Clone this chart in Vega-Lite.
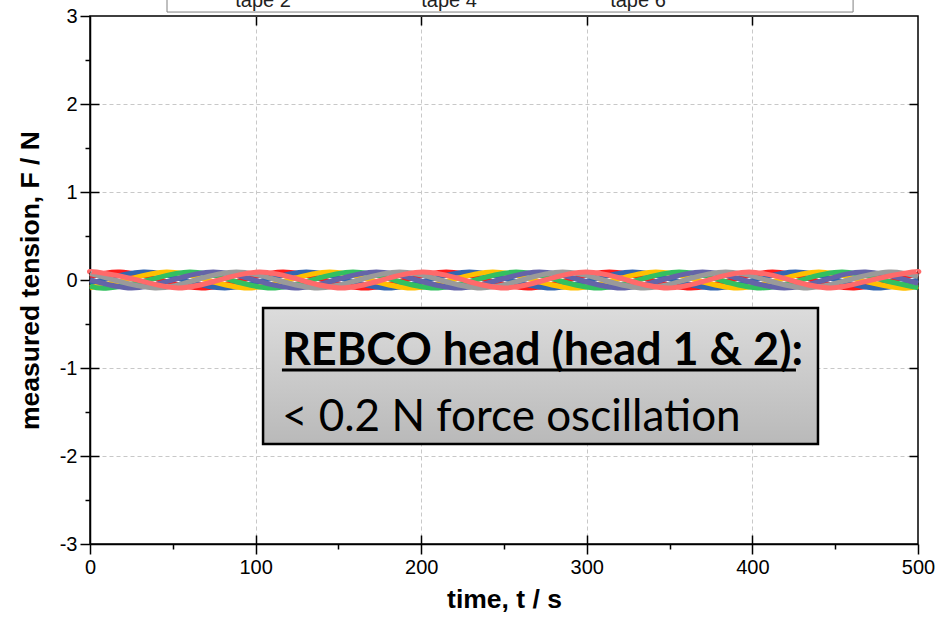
{
  "$schema": "https://vega.github.io/schema/vega-lite/v6.json",
  "width": 828,
  "height": 528,
  "autosize": {"type": "none"},
  "padding": {"left": 90, "top": 16, "right": 27, "bottom": 79},
  "background": "white",
  "config": {"view": {"stroke": "black", "strokeWidth": 1.5}, "font": "Liberation Sans"},
  "datasets": {
    "lines": [
      {"s":"tape 1","t":0,"F":0.036},{"s":"tape 1","t":18.1,"F":0.09},{"s":"tape 1","t":42.7,"F":0},{"s":"tape 1","t":67.4,"F":-0.09},{"s":"tape 1","t":92.0,"F":0},{"s":"tape 1","t":116.6,"F":0.09},{"s":"tape 1","t":141.2,"F":0},{"s":"tape 1","t":165.9,"F":-0.09},{"s":"tape 1","t":190.5,"F":0},{"s":"tape 1","t":215.1,"F":0.09},{"s":"tape 1","t":239.7,"F":0},{"s":"tape 1","t":264.4,"F":-0.09},{"s":"tape 1","t":289.0,"F":0},{"s":"tape 1","t":313.6,"F":0.09},{"s":"tape 1","t":338.2,"F":0},{"s":"tape 1","t":362.9,"F":-0.09},{"s":"tape 1","t":387.5,"F":0},{"s":"tape 1","t":412.1,"F":0.09},{"s":"tape 1","t":436.7,"F":0},{"s":"tape 1","t":461.4,"F":-0.09},{"s":"tape 1","t":486.0,"F":0},{"s":"tape 1","t":500,"F":0.07},
      {"s":"tape 2","t":0,"F":-0.041},{"s":"tape 2","t":7.5,"F":0},{"s":"tape 2","t":32.1,"F":0.09},{"s":"tape 2","t":56.7,"F":0},{"s":"tape 2","t":81.4,"F":-0.09},{"s":"tape 2","t":106.0,"F":0},{"s":"tape 2","t":130.6,"F":0.09},{"s":"tape 2","t":155.2,"F":0},{"s":"tape 2","t":179.9,"F":-0.09},{"s":"tape 2","t":204.5,"F":0},{"s":"tape 2","t":229.1,"F":0.09},{"s":"tape 2","t":253.7,"F":0},{"s":"tape 2","t":278.4,"F":-0.09},{"s":"tape 2","t":303.0,"F":0},{"s":"tape 2","t":327.6,"F":0.09},{"s":"tape 2","t":352.2,"F":0},{"s":"tape 2","t":376.9,"F":-0.09},{"s":"tape 2","t":401.5,"F":0},{"s":"tape 2","t":426.1,"F":0.09},{"s":"tape 2","t":450.7,"F":0},{"s":"tape 2","t":475.4,"F":-0.09},{"s":"tape 2","t":500,"F":0},
      {"s":"tape 3","t":0,"F":-0.088},{"s":"tape 3","t":21.6,"F":0},{"s":"tape 3","t":46.2,"F":0.09},{"s":"tape 3","t":70.8,"F":0},{"s":"tape 3","t":95.5,"F":-0.09},{"s":"tape 3","t":120.1,"F":0},{"s":"tape 3","t":144.7,"F":0.09},{"s":"tape 3","t":169.3,"F":0},{"s":"tape 3","t":194.0,"F":-0.09},{"s":"tape 3","t":218.6,"F":0},{"s":"tape 3","t":243.2,"F":0.09},{"s":"tape 3","t":267.8,"F":0},{"s":"tape 3","t":292.5,"F":-0.09},{"s":"tape 3","t":317.1,"F":0},{"s":"tape 3","t":341.7,"F":0.09},{"s":"tape 3","t":366.3,"F":0},{"s":"tape 3","t":391.0,"F":-0.09},{"s":"tape 3","t":415.6,"F":0},{"s":"tape 3","t":440.2,"F":0.09},{"s":"tape 3","t":464.8,"F":0},{"s":"tape 3","t":489.5,"F":-0.09},{"s":"tape 3","t":500,"F":-0.07},
      {"s":"tape 4","t":0,"F":-0.069},{"s":"tape 4","t":11.1,"F":-0.09},{"s":"tape 4","t":35.7,"F":0},{"s":"tape 4","t":60.3,"F":0.09},{"s":"tape 4","t":84.9,"F":0},{"s":"tape 4","t":109.6,"F":-0.09},{"s":"tape 4","t":134.2,"F":0},{"s":"tape 4","t":158.8,"F":0.09},{"s":"tape 4","t":183.4,"F":0},{"s":"tape 4","t":208.1,"F":-0.09},{"s":"tape 4","t":232.7,"F":0},{"s":"tape 4","t":257.3,"F":0.09},{"s":"tape 4","t":281.9,"F":0},{"s":"tape 4","t":306.6,"F":-0.09},{"s":"tape 4","t":331.2,"F":0},{"s":"tape 4","t":355.8,"F":0.09},{"s":"tape 4","t":380.4,"F":0},{"s":"tape 4","t":405.1,"F":-0.09},{"s":"tape 4","t":429.7,"F":0},{"s":"tape 4","t":454.3,"F":0.09},{"s":"tape 4","t":478.9,"F":0},{"s":"tape 4","t":500,"F":-0.088},
      {"s":"tape 5","t":0,"F":0.003},{"s":"tape 5","t":25.2,"F":-0.09},{"s":"tape 5","t":49.8,"F":0},{"s":"tape 5","t":74.4,"F":0.09},{"s":"tape 5","t":99.0,"F":0},{"s":"tape 5","t":123.7,"F":-0.09},{"s":"tape 5","t":148.3,"F":0},{"s":"tape 5","t":172.9,"F":0.09},{"s":"tape 5","t":197.5,"F":0},{"s":"tape 5","t":222.2,"F":-0.09},{"s":"tape 5","t":246.8,"F":0},{"s":"tape 5","t":271.4,"F":0.09},{"s":"tape 5","t":296.0,"F":0},{"s":"tape 5","t":320.7,"F":-0.09},{"s":"tape 5","t":345.3,"F":0},{"s":"tape 5","t":369.9,"F":0.09},{"s":"tape 5","t":394.5,"F":0},{"s":"tape 5","t":419.2,"F":-0.09},{"s":"tape 5","t":443.8,"F":0},{"s":"tape 5","t":468.4,"F":0.09},{"s":"tape 5","t":493.0,"F":0},{"s":"tape 5","t":500,"F":-0.039},
      {"s":"tape 6","t":0,"F":0.072},{"s":"tape 6","t":14.5,"F":0},{"s":"tape 6","t":39.2,"F":-0.09},{"s":"tape 6","t":63.8,"F":0},{"s":"tape 6","t":88.4,"F":0.09},{"s":"tape 6","t":113.0,"F":0},{"s":"tape 6","t":137.7,"F":-0.09},{"s":"tape 6","t":162.3,"F":0},{"s":"tape 6","t":186.9,"F":0.09},{"s":"tape 6","t":211.5,"F":0},{"s":"tape 6","t":236.2,"F":-0.09},{"s":"tape 6","t":260.8,"F":0},{"s":"tape 6","t":285.4,"F":0.09},{"s":"tape 6","t":310.0,"F":0},{"s":"tape 6","t":334.7,"F":-0.09},{"s":"tape 6","t":359.3,"F":0},{"s":"tape 6","t":383.9,"F":0.09},{"s":"tape 6","t":408.5,"F":0},{"s":"tape 6","t":433.2,"F":-0.09},{"s":"tape 6","t":457.8,"F":0},{"s":"tape 6","t":482.4,"F":0.09},{"s":"tape 6","t":500,"F":0.039},
      {"s":"tape 7","t":0,"F":0.087},{"s":"tape 7","t":4,"F":0.09},{"s":"tape 7","t":28.6,"F":0},{"s":"tape 7","t":53.3,"F":-0.09},{"s":"tape 7","t":77.9,"F":0},{"s":"tape 7","t":102.5,"F":0.09},{"s":"tape 7","t":127.1,"F":0},{"s":"tape 7","t":151.8,"F":-0.09},{"s":"tape 7","t":176.4,"F":0},{"s":"tape 7","t":201,"F":0.09},{"s":"tape 7","t":225.6,"F":0},{"s":"tape 7","t":250.3,"F":-0.09},{"s":"tape 7","t":274.9,"F":0},{"s":"tape 7","t":299.5,"F":0.09},{"s":"tape 7","t":324.1,"F":0},{"s":"tape 7","t":348.8,"F":-0.09},{"s":"tape 7","t":373.4,"F":0},{"s":"tape 7","t":398,"F":0.09},{"s":"tape 7","t":422.6,"F":0},{"s":"tape 7","t":447.3,"F":-0.09},{"s":"tape 7","t":471.9,"F":0},{"s":"tape 7","t":496.5,"F":0.09},{"s":"tape 7","t":500,"F":0.088}
    ],
    "legendbox": [{"x1": 46.5, "x2": 460.8, "y1": 3.045, "y2": 3.6}],
    "legendtext": [
      {"t": 104.5, "F": 3.1, "label": "tape 2"},
      {"t": 216.8, "F": 3.1, "label": "tape 4"},
      {"t": 330.9, "F": 3.1, "label": "tape 6"}
    ],
    "notebox": [{"x1": 104.5, "x2": 439.6, "y1": -0.318, "y2": -1.864}],
    "underline": [{"x1": 115.9, "x2": 426.3, "y": -1.023}],
    "head": [{"t": 115.9, "F": -0.966, "label": "REBCO head (head 1 & 2):"}],
    "body": [{"t": 115.9, "F": -1.716, "label": "< 0.2 N force oscillation"}]
  },
  "layer": [
    {
      "data": {"name": "lines"},
      "mark": {"type": "line", "strokeWidth": 5, "interpolate": "natural", "strokeCap": "butt"},
      "encoding": {
        "x": {
          "field": "t", "type": "quantitative",
          "scale": {"domain": [0, 500], "nice": false, "zero": false},
          "axis": {
            "values": [0, 50, 100, 150, 200, 250, 300, 350, 400, 450, 500],
            "labelExpr": "datum.value % 100 === 0 ? '' + datum.value : ''",
            "title": "time, t / s",
            "titleFont": "Liberation Sans", "titleFontSize": 26.5, "titleFontWeight": "bold", "titleColor": "black", "titlePadding": 9,
            "labelFont": "Liberation Sans", "labelFontSize": 20, "labelColor": "black", "labelPadding": 3,
            "labelFlush": false, "labelOverlap": false,
            "tickSize": {"condition": {"test": "datum.value % 100 === 0", "value": 10}, "value": 5},
            "tickColor": "black", "tickWidth": 1.5,
            "domainColor": "black", "domainWidth": 1.5,
            "grid": false
          }
        },
        "y": {
          "field": "F", "type": "quantitative",
          "scale": {"domain": [-3, 3], "nice": false, "zero": false},
          "axis": {
            "values": [-3, -2.5, -2, -1.5, -1, -0.5, 0, 0.5, 1, 1.5, 2, 2.5, 3],
            "labelExpr": "datum.value % 1 === 0 ? '' + datum.value : ''",
            "title": "measured tension, F / N",
            "titleFont": "Liberation Sans", "titleFontSize": 26.5, "titleFontWeight": "bold", "titleColor": "black", "titlePadding": 15,
            "labelFont": "Liberation Sans", "labelFontSize": 20, "labelColor": "black", "labelPadding": 3,
            "labelFlush": false, "labelOverlap": false,
            "tickSize": {"condition": {"test": "datum.value % 1 === 0", "value": 10}, "value": 5},
            "tickColor": "black", "tickWidth": 1.5,
            "domainColor": "black", "domainWidth": 1.5,
            "grid": false
          }
        },
        "color": {
          "field": "s", "type": "nominal",
          "scale": {
            "domain": ["tape 1", "tape 2", "tape 3", "tape 4", "tape 5", "tape 6", "tape 7"],
            "range": ["#ff1a1a", "#3366b0", "#ffc000", "#33c060", "#6464a8", "#9a9a9a", "#ff6a6a"]
          },
          "legend": null
        }
      }
    },
    {
      "data": {"name": "legendbox"},
      "mark": {"type": "rect", "fill": "white", "stroke": "#808080", "strokeWidth": 1},
      "encoding": {
        "x": {
          "field": "x1", "type": "quantitative",
          "scale": {"domain": [0, 500], "nice": false, "zero": false},
          "axis": {
            "orient": "top", "values": [100, 200, 300, 400], "labels": false, "domain": false, "title": null,
            "tickSize": -9, "tickColor": "black", "tickWidth": 1.5,
            "grid": true, "gridColor": "#c8c8c8", "gridDash": [4, 3], "gridWidth": 1
          }
        },
        "x2": {"field": "x2"},
        "y": {
          "field": "y1", "type": "quantitative",
          "scale": {"domain": [-3, 3], "nice": false, "zero": false},
          "axis": {
            "orient": "right", "values": [-2, -1, 0, 1, 2], "labels": false, "domain": false, "title": null,
            "tickSize": -9, "tickColor": "black", "tickWidth": 1.5,
            "grid": true, "gridColor": "#c8c8c8", "gridDash": [4, 3], "gridWidth": 1
          }
        },
        "y2": {"field": "y2"}
      }
    },
    {
      "data": {"name": "legendtext"},
      "mark": {"type": "text", "font": "Liberation Sans", "fontSize": 20, "color": "#222222", "align": "center", "baseline": "alphabetic"},
      "encoding": {
        "x": {
          "field": "t", "type": "quantitative", "scale": {"domain": [0, 500], "nice": false, "zero": false},
          "axis": {"orient": "bottom", "values": [100, 200, 300, 400], "labels": false, "domain": false, "grid": false, "title": null, "tickSize": -9, "tickColor": "black", "tickWidth": 1.5}
        },
        "y": {
          "field": "F", "type": "quantitative", "scale": {"domain": [-3, 3], "nice": false, "zero": false},
          "axis": {"orient": "left", "values": [-2, -1, 0, 1, 2], "labels": false, "domain": false, "grid": false, "title": null, "tickSize": -9, "tickColor": "black", "tickWidth": 1.5}
        },
        "text": {"field": "label"}
      }
    },
    {
      "data": {"name": "notebox"},
      "mark": {
        "type": "rect",
        "fill": {"gradient": "linear", "x1": 0, "y1": 0, "x2": 0, "y2": 1, "stops": [{"offset": 0, "color": "#dcdcdc"}, {"offset": 1, "color": "#b9b9b9"}]},
        "stroke": "black", "strokeWidth": 2.5
      },
      "encoding": {
        "x": {"field": "x1", "type": "quantitative", "scale": {"domain": [0, 500], "nice": false, "zero": false}, "axis": null},
        "x2": {"field": "x2"},
        "y": {"field": "y1", "type": "quantitative", "scale": {"domain": [-3, 3], "nice": false, "zero": false}, "axis": null},
        "y2": {"field": "y2"}
      }
    },
    {
      "data": {"name": "underline"},
      "mark": {"type": "rule", "color": "black", "strokeWidth": 3},
      "encoding": {
        "x": {"field": "x1", "type": "quantitative", "scale": {"domain": [0, 500], "nice": false, "zero": false}, "axis": null},
        "x2": {"field": "x2"},
        "y": {"field": "y", "type": "quantitative", "scale": {"domain": [-3, 3], "nice": false, "zero": false}, "axis": null}
      }
    },
    {
      "data": {"name": "head"},
      "mark": {"type": "text", "font": "Lato", "fontSize": 45, "fontWeight": "bold", "color": "black", "align": "left", "baseline": "alphabetic"},
      "encoding": {
        "x": {"field": "t", "type": "quantitative", "scale": {"domain": [0, 500], "nice": false, "zero": false}, "axis": null},
        "y": {"field": "F", "type": "quantitative", "scale": {"domain": [-3, 3], "nice": false, "zero": false}, "axis": null},
        "text": {"field": "label"}
      }
    },
    {
      "data": {"name": "body"},
      "mark": {"type": "text", "font": "Lato", "fontSize": 44, "color": "black", "align": "left", "baseline": "alphabetic"},
      "encoding": {
        "x": {"field": "t", "type": "quantitative", "scale": {"domain": [0, 500], "nice": false, "zero": false}, "axis": null},
        "y": {"field": "F", "type": "quantitative", "scale": {"domain": [-3, 3], "nice": false, "zero": false}, "axis": null},
        "text": {"field": "label"}
      }
    }
  ],
  "resolve": {"axis": {"x": "independent", "y": "independent"}}
}
